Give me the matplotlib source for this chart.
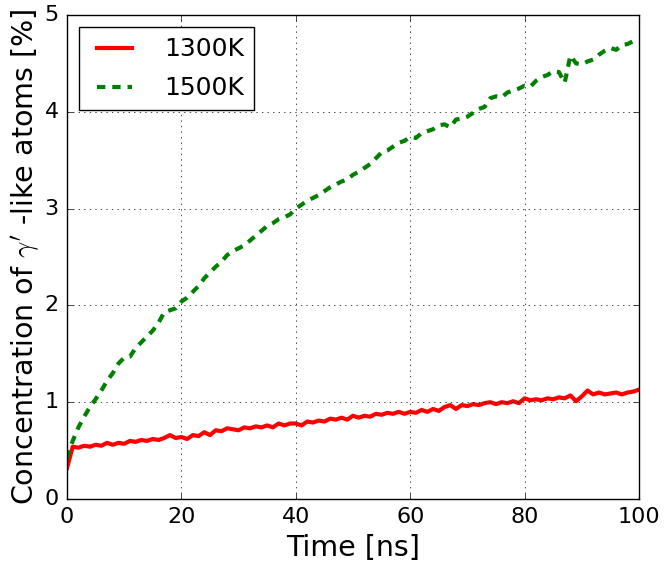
import matplotlib
matplotlib.use("Agg")
import matplotlib.pyplot as plt

time_ns = list(range(0, 101))

conc_1300K = [0.32, 0.54, 0.53, 0.55, 0.54, 0.56, 0.55, 0.58, 0.56, 0.58,
              0.57, 0.60, 0.59, 0.61, 0.60, 0.62, 0.61, 0.63, 0.66, 0.63,
              0.64, 0.62, 0.66, 0.65, 0.69, 0.66, 0.71, 0.70, 0.73, 0.72,
              0.71, 0.74, 0.73, 0.75, 0.74, 0.76, 0.74, 0.78, 0.76, 0.78,
              0.78, 0.76, 0.80, 0.79, 0.81, 0.80, 0.83, 0.82, 0.84, 0.82,
              0.86, 0.84, 0.86, 0.85, 0.88, 0.87, 0.89, 0.88, 0.90, 0.88,
              0.90, 0.89, 0.92, 0.90, 0.93, 0.91, 0.95, 0.97, 0.93, 0.97,
              0.96, 0.98, 0.97, 0.99, 1.00, 0.98, 1.00, 0.99, 1.01, 0.99,
              1.04, 1.02, 1.03, 1.02, 1.04, 1.03, 1.05, 1.04, 1.07, 1.01,
              1.06, 1.12, 1.08, 1.10, 1.08, 1.09, 1.10, 1.08, 1.10, 1.11,
              1.13]

conc_1500K = [0.42, 0.60, 0.74, 0.85, 0.95, 1.03, 1.12, 1.22, 1.30, 1.40,
              1.46, 1.47, 1.56, 1.62, 1.68, 1.74, 1.82, 1.93, 1.95, 1.97,
              2.04, 2.08, 2.14, 2.20, 2.28, 2.34, 2.40, 2.45, 2.52, 2.56,
              2.59, 2.62, 2.67, 2.72, 2.77, 2.82, 2.85, 2.89, 2.91, 2.94,
              3.00, 3.04, 3.08, 3.11, 3.14, 3.18, 3.22, 3.25, 3.28, 3.30,
              3.35, 3.38, 3.42, 3.46, 3.52, 3.58, 3.60, 3.64, 3.68, 3.70,
              3.74, 3.73, 3.78, 3.80, 3.82, 3.86, 3.87, 3.84, 3.92, 3.93,
              3.95, 3.99, 4.03, 4.05, 4.14, 4.16, 4.15, 4.20, 4.22, 4.24,
              4.27, 4.26, 4.32, 4.36, 4.38, 4.42, 4.41, 4.30, 4.58, 4.50,
              4.49, 4.52, 4.54, 4.59, 4.63, 4.66, 4.64, 4.69, 4.70, 4.73,
              4.72]

plt.style.use("classic")
plt.rcParams["mathtext.fontset"] = "cm"

fig = plt.figure(figsize=(6.66, 5.68), dpi=100, facecolor="white")
ax = fig.add_subplot(111)
fig.subplots_adjust(left=0.1006, right=0.9595, top=0.9736, bottom=0.1215)

ax.plot(time_ns, conc_1300K, color="red", linewidth=3, label="1300K")
ax.plot(time_ns, conc_1500K, color="green", linewidth=3, linestyle="--",
        dashes=(6, 5), label="1500K")

ax.set_xlim(0, 100)
ax.set_ylim(0, 5)
ax.set_xticks([0, 20, 40, 60, 80, 100])
ax.set_yticks([0, 1, 2, 3, 4, 5])
ax.tick_params(labelsize=16, pad=6)
ax.set_xlabel("Time [ns]", fontsize=20.5)
ax.set_ylabel(r"Concentration of $\gamma^{\prime}$ -like atoms [%]",
              fontsize=20.5, labelpad=2)
ax.grid(True)

ax.legend(loc="upper left", fontsize=18, handlelength=2.0, handletextpad=1.0,
          labelspacing=0.6, fancybox=False, framealpha=1)

fig.savefig("out.png", dpi=100, facecolor="white")
